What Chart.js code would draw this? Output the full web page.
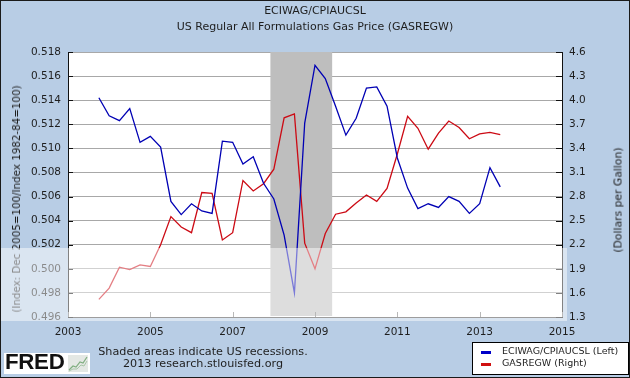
<!DOCTYPE html>
<html>
<head>
<meta charset="utf-8">
<script src="https://cdn.jsdelivr.net/npm/chart.js@4.4.0/dist/chart.umd.min.js"></script>
<style>
  body { margin: 0; }
  #wrap { position: relative; width: 630px; height: 378px; background: #b8cde5; overflow: hidden;
          font-family: "DejaVu Sans", Verdana, sans-serif; color: #1e1e1e; }
  #wrap canvas { position: absolute; left: 0; top: 0; }
  .abs { position: absolute; white-space: nowrap; }
  .title { left: 0; width: 630px; text-align: center; font-size: 11px; }
  .rot { transform: translate(-50%, -50%) rotate(-90deg); }
  .foot { left: 203px; transform: translateX(-50%); font-size: 11.2px; }
  #logo { left: 4px; top: 353px; width: 86px; height: 21px; background: #fff; }
  #logo span { position: absolute; left: 1px; top: -4px; font: bold 22.3px "Liberation Sans", Arial, sans-serif; color: #111; letter-spacing: -0.3px; }
  #logo svg { position: absolute; left: 64px; top: 2px; }
  #legend { left: 472px; top: 342px; width: 155px; height: 31px; background: #fff; border: 1px solid #000; font-size: 9.5px; }
  #legend div { position: absolute; left: 29px; }
  #legend i { position: absolute; left: 8px; width: 10px; height: 3px; }
  #band { left: 0; top: 248px; width: 567px; height: 73px; background: rgba(255,255,255,0.48); }
  #frame { left: 0; top: 0; width: 628px; height: 376px; border: 1px solid #1a1a1a; }
</style>
</head>
<body>
<div id="wrap">
  <canvas id="myChart" width="630" height="378"></canvas>
  <div class="abs title" style="top:4px">ECIWAG/CPIAUCSL</div>
  <div class="abs title" style="top:19.5px">US Regular All Formulations Gas Price (GASREGW)</div>
  <div class="abs rot" style="left:16px; top:199px; font-size:10.3px">(Index: Dec 2005=100/Index 1982-84=100)</div>
  <div class="abs rot" style="left:618px; top:200px; font-size:10.8px">(Dollars per Gallon)</div>
  <div class="abs foot" style="top:345px">Shaded areas indicate US recessions.</div>
  <div class="abs foot" style="top:357px">2013 research.stlouisfed.org</div>
  <div class="abs" id="logo"><span>FRED</span>
    <svg width="20" height="17"><rect width="20" height="17" fill="#e4e8e4"/>
      <polyline points="1,15 5,11 8,12 12,7 15,8 19,2" fill="none" stroke="#7fae7f" stroke-width="1.2"/>
      <polyline points="1,16 5,14 9,14 13,10 16,11 19,6" fill="none" stroke="#a9c6a9" stroke-width="1"/></svg>
  </div>
  <div class="abs" id="legend">
    <i style="top:8px; background:#0000c8"></i><div style="top:2px">ECIWAG/CPIAUCSL (Left)</div>
    <i style="top:20px; background:#d01010"></i><div style="top:14px">GASREGW (Right)</div>
  </div>
  <div class="abs" id="band"></div>
  <div class="abs" id="frame"></div>
</div>
<script>
// quarterly observations, first month of each quarter
const quarters = [
  '2003-10', '2004-01', '2004-04', '2004-07', '2004-10', '2005-01', '2005-04', '2005-07',
  '2005-10', '2006-01', '2006-04', '2006-07', '2006-10', '2007-01', '2007-04', '2007-07',
  '2007-10', '2008-01', '2008-04', '2008-07', '2008-10', '2009-01', '2009-04', '2009-07',
  '2009-10', '2010-01', '2010-04', '2010-07', '2010-10', '2011-01', '2011-04', '2011-07',
  '2011-10', '2012-01', '2012-04', '2012-07', '2012-10', '2013-01', '2013-04', '2013-07'
];
// ECIWAG/CPIAUCSL (left axis)
const wageRatio = [
  0.5142, 0.5127, 0.5123, 0.5133, 0.5105, 0.5110, 0.5101, 0.5056,
  0.5045, 0.5054, 0.5048, 0.5046, 0.5106, 0.5105, 0.5087, 0.5093,
  0.5071, 0.5058, 0.5028, 0.4980, 0.5121, 0.5169, 0.5158, 0.5135,
  0.5111, 0.5125, 0.5150, 0.5151, 0.5135, 0.5092, 0.5067, 0.5050,
  0.5054, 0.5051, 0.5060, 0.5056, 0.5046, 0.5054, 0.5084, 0.5068
];
// GASREGW, dollars per gallon (right axis)
const gasPrice = [
  1.52, 1.66, 1.92, 1.89, 1.95, 1.93, 2.20, 2.55,
  2.42, 2.35, 2.85, 2.84, 2.26, 2.35, 3.00, 2.87,
  2.96, 3.14, 3.78, 3.83, 2.22, 1.90, 2.34, 2.58,
  2.61, 2.72, 2.82, 2.74, 2.90, 3.33, 3.80, 3.65,
  3.39, 3.59, 3.74, 3.66, 3.52, 3.58, 3.60, 3.57
];
const leftTicks = [0.496, 0.498, 0.500, 0.502, 0.504, 0.506, 0.508, 0.510, 0.512, 0.514, 0.516, 0.518];
const rightTicks = [1.3, 1.6, 1.9, 2.2, 2.5, 2.8, 3.1, 3.4, 3.7, 4.0, 4.3, 4.6];
const yearTicks = [2003, 2005, 2007, 2009, 2011, 2013, 2015];
const recession = ['2007-12', '2009-06'];

const toYear = (q) => {
    const [y, m] = q.split('-').map(Number);
    return y + (m - 1) / 12;
};

const tickFont = { family: '"DejaVu Sans", Verdana, sans-serif', size: 10.5 };

const plotBackground = {
    id: 'plotBackground',
    beforeDraw(chart) {
        const { ctx, chartArea: a } = chart;
        ctx.save();
        ctx.fillStyle = '#ffffff';
        ctx.fillRect(a.left, a.top, a.right - a.left, a.bottom - a.top);
        ctx.restore();
    }
};

const recessionShade = {
    id: 'recessionShade',
    beforeDatasetsDraw(chart) {
        const { ctx, chartArea: a, scales } = chart;
        const x0 = scales.x.getPixelForValue(toYear(recession[0]));
        const x1 = scales.x.getPixelForValue(toYear(recession[1]));
        ctx.save();
        ctx.fillStyle = '#bebebe';
        ctx.fillRect(x0, a.top, x1 - x0, a.bottom - a.top - 1);
        ctx.restore();
    }
};

// short tick marks pointing into the plot
const innerTicks = {
    id: 'innerTicks',
    afterDatasetsDraw(chart) {
        const { ctx, chartArea: a, scales } = chart;
        ctx.save();
        ctx.lineWidth = 1;
        ctx.strokeStyle = '#111';
        scales.y.ticks.forEach(t => {
            const py = Math.round(scales.y.getPixelForValue(t.value)) + 0.5;
            ctx.beginPath(); ctx.moveTo(a.left, py); ctx.lineTo(a.left + 5, py); ctx.stroke();
        });
        scales.y1.ticks.forEach(t => {
            const py = Math.round(scales.y1.getPixelForValue(t.value)) + 0.5;
            ctx.beginPath(); ctx.moveTo(a.right - 6, py); ctx.lineTo(a.right, py); ctx.stroke();
        });
        ctx.strokeStyle = '#777';
        scales.x.ticks.forEach(t => {
            const px = Math.round(scales.x.getPixelForValue(t.value)) + 0.5;
            ctx.beginPath(); ctx.moveTo(px, a.bottom); ctx.lineTo(px, a.bottom - 5); ctx.stroke();
        });
        ctx.restore();
    }
};

const ctx = document.getElementById('myChart').getContext('2d');
new Chart(ctx, {
    type: 'line',
    data: {
        datasets: [{
            label: 'ECIWAG/CPIAUCSL (Left)',
            data: quarters.map((q, i) => ({ x: toYear(q), y: wageRatio[i] })),
            borderColor: '#0000b4',
            yAxisID: 'y'
        }, {
            label: 'GASREGW (Right)',
            data: quarters.map((q, i) => ({ x: toYear(q), y: gasPrice[i] })),
            borderColor: '#cc0a14',
            yAxisID: 'y1'
        }]
    },
    options: {
        responsive: false,
        animation: false,
        layout: { padding: { top: 52, left: 0, right: 0, bottom: 0 } },
        elements: {
            point: { radius: 0 },
            line: { tension: 0, borderWidth: 1.3, fill: false }
        },
        plugins: { legend: { display: false }, tooltip: { enabled: false } },
        scales: {
            x: {
                type: 'linear',
                min: 2003, max: 2015,
                afterFit: s => { s.height = 61; },
                afterBuildTicks: s => { s.ticks = yearTicks.map(v => ({ value: v })); },
                grid: { display: false, drawTicks: false },
                border: { color: '#444' },
                ticks: { font: tickFont, color: '#1e1e1e', padding: 9, maxRotation: 0, autoSkip: false, callback: v => String(v) }
            },
            y: {
                position: 'left',
                min: 0.496, max: 0.518,
                afterFit: s => { s.width = 68; },
                afterBuildTicks: s => { s.ticks = leftTicks.map(v => ({ value: v })); },
                grid: { color: '#a8a8a8', drawTicks: false },
                border: { color: '#111' },
                ticks: { font: tickFont, color: '#1e1e1e', padding: 7, callback: v => v.toFixed(3) }
            },
            y1: {
                position: 'right',
                min: 1.3, max: 4.6,
                afterFit: s => { s.width = 68; },
                afterBuildTicks: s => { s.ticks = rightTicks.map(v => ({ value: v })); },
                grid: { drawOnChartArea: false, drawTicks: false },
                border: { color: '#111' },
                ticks: { font: tickFont, color: '#1e1e1e', padding: 7, callback: v => v.toFixed(1) }
            }
        }
    },
    plugins: [plotBackground, recessionShade, innerTicks]
});
</script>
</body>
</html>
